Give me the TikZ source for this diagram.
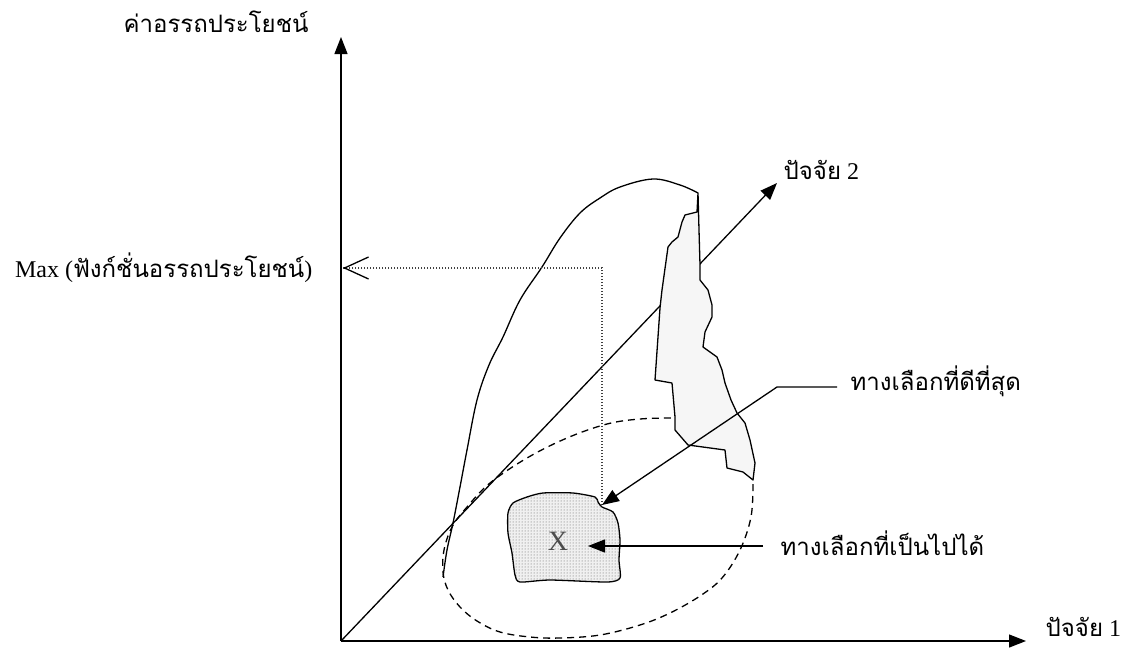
\documentclass[tikz,border=0pt]{standalone}
\usepackage{fontspec}
\setmainfont{Liberation Serif}
\newfontfamily\thai[Script=Thai]{Loma}
\usetikzlibrary{arrows.meta,patterns}
\begin{document}
\begin{tikzpicture}[x=1pt,y=-1pt,
  line width=1.3pt,
  tri/.style={-{Triangle[length=17pt,width=13pt]}},
  barb/.style={{Straight Barb[length=24pt,width=22pt,line width=1.3pt]}-},
  thaitext/.style={inner sep=0pt, font=\fontsize{24}{28}\selectfont},
  latintext/.style={inner sep=0pt, font=\fontsize{28}{32}\selectfont},
  dashline/.style={dash pattern=on 7pt off 5pt},
  dotline/.style={line width=1.1pt, dash pattern=on 1.3pt off 1.7pt, black!75},
]
\useasboundingbox (0,0) rectangle (1127,648);

% coordinates
\coordinate (O) at (341,641);
\coordinate (ytip) at (341,37);
\coordinate (xtip) at (1026,641);
\coordinate (ftip) at (777,183);
\coordinate (maxpt) at (343,268);
\coordinate (corner) at (602,505);
\coordinate (bend) at (777,387);
\coordinate (xtarget) at (588,546);

% dashed feasible ellipse
\draw[dashline] plot[smooth, tension=0.6] coordinates {
 (753,484) (751,517) (740,550) (722,578) (700,596) (670,613) (640,625)
 (600,635) (560,638) (530,637) (500,632) (477,621) (460,607) (448,590)
 (443,572) (444,550) (452,527) (467,507) (490,483) (527,458) (567,438)
 (607,424) (640,419) (672,418)};

% utility surface outline
\draw plot[smooth, tension=0.6] coordinates {
 (443,577) (447,550) (453,523) (460,487) (467,450) (477,400) (489,365)
 (503,337) (520,300) (542,267) (560,238) (580,213) (600,198) (620,187)
 (653,179) (680,185) (698,193)};

% axes
\draw[tri] (O) -- (ytip);
\draw[tri] (O) -- (xtip);
\draw[tri] (O) -- (ftip);

% shaded cut region
\draw[fill=gray!7, line join=round] (698,193) -- (699,230) -- (700,265) -- (700,280)
 -- (708,290) -- (712,305) -- (712,317) -- (705,332) -- (703,347) -- (717,357)
 -- (722,370) -- (725,383) -- (731,400) -- (737,413) -- (745,423) -- (750,440)
 -- (755,463) -- (753,480) -- (743,472) -- (727,468) -- (725,450) -- (688,445)
 -- (675,430) -- (675,417) -- (672,383) -- (655,380) -- (660,308) -- (662,290)
 -- (668,247) -- (672,242) -- (678,237) -- (682,222) -- (685,215) -- (697,212)
 -- cycle;

% dotted projection to max
\draw[dotline] (corner) |- (maxpt);
\draw[barb] (maxpt) -- ++(1,0);

% feasible box X
\draw[fill=gray!12, postaction={pattern=dots, pattern color=black!65}, line join=round]
 plot[smooth cycle, tension=0.4] coordinates {
 (508,513) (513,503) (527,497) (543,493) (573,493) (595,497) (598,502)
 (602,507) (613,512) (618,523) (620,540) (619,560) (620,578) (607,582)
 (550,580) (520,582) (515,575) (512,553) (508,533)};
\node[latintext, text=black!70] (X) at (558,541) {X};

% labels
\node[thaitext, anchor=center] (ylab) at (216,22) {\thai ค่าอรรถประโยชน์};
\node[thaitext, anchor=east] (maxlab) at (313,268) {Max ({\thai ฟังก์ชั่นอรรถประโยชน์})};
\node[thaitext, anchor=west] (f2lab) at (783,170) {{\thai ปัจจัย} 2};
\node[thaitext, anchor=west] (f1lab) at (1045,627) {{\thai ปัจจัย} 1};
\node[thaitext, anchor=west] (bestlab) at (850,381) {\thai ทางเลือกที่ดีที่สุด};
\node[thaitext, anchor=west] (feaslab) at (780,543) {\thai ทางเลือกที่เป็นไปได้};

% connectors from labels
\draw[tri] (bestlab.west |- 0,387) ++(-13,0) -- (bend) -- (corner);
\draw[tri] (feaslab.west |- xtarget) ++(-17,0) -- (xtarget);
\end{tikzpicture}
\end{document}
